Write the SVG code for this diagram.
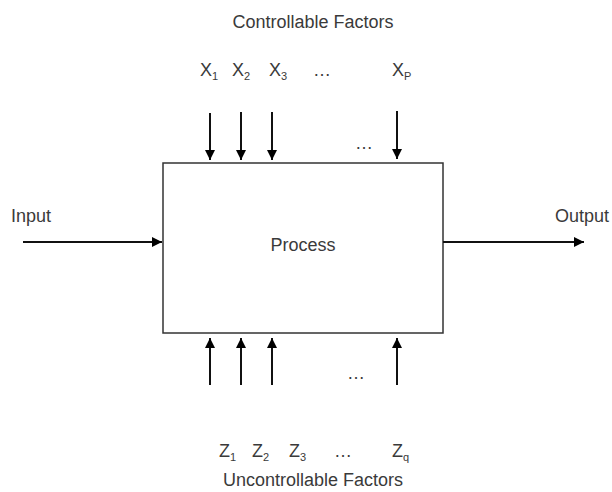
<svg xmlns="http://www.w3.org/2000/svg" width="612" height="492" viewBox="0 0 612 492">
<style>
text{font-family:"Liberation Sans",Arial,sans-serif;fill:#3a3a3a;font-size:18px}
.sub{font-size:11px}
.ln{stroke:#111;stroke-width:2;fill:none}
</style>
<defs>
<marker id="ah" viewBox="0 0 10 10" refX="10" refY="5" markerWidth="10" markerHeight="10" markerUnits="userSpaceOnUse" orient="auto">
<path d="M0,0 L10,5 L0,10 z" fill="#000"/>
</marker>
</defs>
<rect width="612" height="492" fill="#fff"/>
<g id="process">
<rect x="163" y="163" width="280" height="170" fill="#fff" stroke="#333" stroke-width="1.5"/>
<text x="303" y="251" text-anchor="middle">Process</text>
</g>
<g id="labels">
<text x="313" y="28" text-anchor="middle">Controllable Factors</text>
<text x="200" y="76">X<tspan class="sub" dy="4">1</tspan></text>
<text x="232" y="76">X<tspan class="sub" dy="4">2</tspan></text>
<text x="269" y="76">X<tspan class="sub" dy="4">3</tspan></text>
<text x="313" y="76">…</text>
<text x="392" y="76">X<tspan class="sub" dy="4">P</tspan></text>
<text x="355" y="149" fill="#777">…</text>
<text x="347" y="379" fill="#777">…</text>
<text x="219" y="457">Z<tspan class="sub" dy="4">1</tspan></text>
<text x="252" y="457">Z<tspan class="sub" dy="4">2</tspan></text>
<text x="289" y="457">Z<tspan class="sub" dy="4">3</tspan></text>
<text x="334" y="457">…</text>
<text x="392" y="457">Z<tspan class="sub" dy="4">q</tspan></text>
<text x="313" y="486" text-anchor="middle">Uncontrollable Factors</text>
<text x="11" y="222">Input</text>
<text x="555" y="222">Output</text>
</g>
<g id="connectors">
<line class="ln" x1="210" y1="113" x2="210" y2="160" marker-end="url(#ah)"/>
<line class="ln" x1="241" y1="112" x2="241" y2="160" marker-end="url(#ah)"/>
<line class="ln" x1="272" y1="112" x2="272" y2="160" marker-end="url(#ah)"/>
<line class="ln" x1="397" y1="111" x2="397" y2="159" marker-end="url(#ah)"/>
<line class="ln" x1="210" y1="385" x2="210" y2="338" marker-end="url(#ah)"/>
<line class="ln" x1="241" y1="385" x2="241" y2="338" marker-end="url(#ah)"/>
<line class="ln" x1="272" y1="385" x2="272" y2="338" marker-end="url(#ah)"/>
<line class="ln" x1="397" y1="385" x2="397" y2="338" marker-end="url(#ah)"/>
<line class="ln" x1="23" y1="242" x2="162" y2="242" marker-end="url(#ah)"/>
<line class="ln" x1="443" y1="242" x2="584" y2="242" marker-end="url(#ah)"/>
</g>
</svg>
